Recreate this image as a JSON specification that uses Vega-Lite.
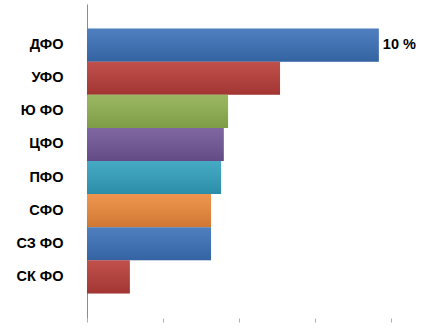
{
  "$schema": "https://vega.github.io/schema/vega-lite/v6.json",
  "width": 304,
  "height": 314,
  "autosize": {"type": "none"},
  "padding": {"left": 87, "top": 4, "right": 47, "bottom": 10},
  "background": "white",
  "config": {"view": {"stroke": null}, "font": "Liberation Sans"},
  "data": {
    "values": [
      {"region": "ДФО", "value": 9.6, "color": "#3B70B8", "label": "10 %"},
      {"region": "УФО", "value": 6.35, "color": "#B83C38", "label": ""},
      {"region": "Ю ФО", "value": 4.64, "color": "#8FB04F", "label": ""},
      {"region": "ЦФО", "value": 4.5, "color": "#705597", "label": ""},
      {"region": "ПФО", "value": 4.41, "color": "#31A0BE", "label": ""},
      {"region": "СФО", "value": 4.08, "color": "#EC883A", "label": ""},
      {"region": "СЗ ФО", "value": 4.08, "color": "#3B70B8", "label": ""},
      {"region": "СК ФО", "value": 1.41, "color": "#B83C38", "label": ""}
    ]
  },
  "encoding": {
    "y": {
      "field": "region",
      "type": "nominal",
      "sort": null,
      "scale": {"paddingInner": 0, "paddingOuter": 0.74},
      "axis": {
        "title": null,
        "ticks": false,
        "domainColor": "#8c8c8c",
        "labelFont": "Liberation Sans",
        "labelFontSize": 14.5,
        "labelFontWeight": "bold",
        "labelColor": "#000000",
        "labelPadding": 24
      }
    },
    "x": {
      "field": "value",
      "type": "quantitative",
      "scale": {"domain": [0, 10], "nice": false},
      "axis": {
        "title": null,
        "labels": false,
        "domain": false,
        "grid": false,
        "values": [0, 2.5, 5, 7.5, 10],
        "tickColor": "#b0b0b0",
        "tickSize": 4
      }
    }
  },
  "layer": [
    {
      "mark": {"type": "bar"},
      "encoding": {
        "color": {"field": "color", "type": "nominal", "scale": null}
      }
    },
    {
      "mark": {
        "type": "bar",
        "color": {
          "gradient": "linear",
          "x1": 0, "y1": 0, "x2": 0, "y2": 1,
          "stops": [
            {"offset": 0, "color": "rgba(255,255,255,0.10)"},
            {"offset": 1, "color": "rgba(0,0,0,0.12)"}
          ]
        }
      }
    },
    {
      "mark": {
        "type": "text",
        "align": "left",
        "baseline": "middle",
        "dx": 4,
        "font": "Liberation Sans",
        "fontSize": 14.5,
        "fontWeight": "bold",
        "color": "#000000"
      },
      "encoding": {"text": {"field": "label"}}
    }
  ]
}
